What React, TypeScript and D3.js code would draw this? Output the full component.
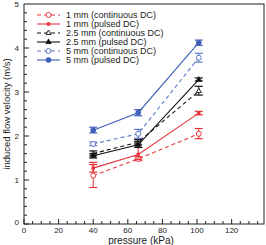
import { useEffect, useRef } from 'react';
import * as d3 from 'd3';

const pressures = [40, 66, 101];

const seriesNames = [
  '1 mm (continuous DC)',
  '1 mm (pulsed DC)',
  '2.5 mm (continuous DC)',
  '2.5 mm (pulsed DC)',
  '5 mm (continuous DC)',
  '5 mm (pulsed DC)',
];
const seriesColors = ['#e8343a', '#e8343a', '#111111', '#111111', '#5a78c8', '#3f5fb8'];
const seriesDashed = [true, false, true, false, true, false];
const seriesMarkers = ['circleOpen', 'square', 'triangleOpen', 'triangle', 'circleOpen', 'circle'];

const seriesValues = [
  [1.1, 1.48, 2.05],
  [1.27, 1.58, 2.52],
  [1.6, 1.86, 3.02],
  [1.55, 1.8, 3.28],
  [1.82, 2.05, 3.78],
  [2.13, 2.53, 4.12],
];
const seriesErrLow = [
  [0.83, 1.44, 1.94],
  [1.18, 1.47, 2.48],
  [1.55, 1.8, 2.93],
  [1.5, 1.74, 3.25],
  [1.78, 1.95, 3.68],
  [2.07, 2.46, 4.06],
];
const seriesErrHigh = [
  [1.4, 1.53, 2.17],
  [1.35, 1.74, 2.56],
  [1.66, 1.92, 3.13],
  [1.6, 1.88, 3.32],
  [1.86, 2.15, 3.88],
  [2.2, 2.6, 4.18],
];

const xTickLabels = [0, 20, 40, 60, 80, 100, 120];
const yTickLabels = [0, 1, 2, 3, 4, 5];

const W = 266;
const H = 245;
const margin = { top: 4, right: 2, bottom: 21, left: 24 };
const FONT = '"Liberation Sans", Arial, sans-serif';

export default function App() {
  const ref = useRef<SVGSVGElement>(null);

  useEffect(() => {
    if (!ref.current) return;
    const svg = d3.select(ref.current);
    svg.selectAll('*').remove();

    const x = d3.scaleLinear().domain([0, 138.7]).range([margin.left, W - margin.right]);
    const y = d3.scaleLinear().domain([0, 5]).range([H - margin.bottom, margin.top]);

    // frame
    svg.append('rect')
      .attr('x', margin.left).attr('y', margin.top)
      .attr('width', W - margin.right - margin.left)
      .attr('height', H - margin.bottom - margin.top)
      .attr('fill', 'none').attr('stroke', '#222').attr('stroke-width', 1);

    // x ticks (inward)
    const xMinor = d3.range(0, 138, 5);
    svg.append('g').selectAll('line').data(xMinor).join('line')
      .attr('x1', d => x(d)).attr('x2', d => x(d))
      .attr('y1', y(0)).attr('y2', d => y(0) - (d % 20 === 0 ? 5 : 3))
      .attr('stroke', '#222').attr('stroke-width', 1);
    svg.append('g').selectAll('text').data(xTickLabels).join('text')
      .attr('x', d => x(d)).attr('y', y(0) + 9)
      .attr('text-anchor', 'middle')
      .attr('font-family', FONT).attr('font-size', 8).attr('fill', '#222')
      .text(d => d);

    // y ticks (inward)
    const yMinor = d3.range(0, 25).map(i => i * 0.2);
    svg.append('g').selectAll('line').data(yMinor).join('line')
      .attr('x1', x(0)).attr('x2', (d, i) => x(0) + (i % 5 === 0 ? 5 : 3))
      .attr('y1', d => y(d)).attr('y2', d => y(d))
      .attr('stroke', '#222').attr('stroke-width', 1);
    svg.append('g').selectAll('text').data(yTickLabels).join('text')
      .attr('x', margin.left - 5).attr('y', d => y(d) + (d === 0 ? 1 : 3))
      .attr('text-anchor', 'end')
      .attr('font-family', FONT).attr('font-size', 8).attr('fill', '#222')
      .text(d => d);

    // axis titles
    svg.append('text')
      .attr('x', 141).attr('y', H - 1)
      .attr('text-anchor', 'middle')
      .attr('font-family', FONT).attr('font-size', 10).attr('fill', '#222')
      .text('pressure (kPa)');
    svg.append('text')
      .attr('transform', `translate(10,${(margin.top + H - margin.bottom) / 2}) rotate(-90)`)
      .attr('text-anchor', 'middle')
      .attr('font-family', FONT).attr('font-size', 9.5).attr('fill', '#222')
      .text('induced flow velocity (m/s)');

    const drawMarker = (g: any, kind: string, cx: number, cy: number, color: string) => {
      if (kind === 'circleOpen') {
        g.append('circle').attr('cx', cx).attr('cy', cy).attr('r', 2.5)
          .attr('fill', 'white').attr('stroke', color).attr('stroke-width', 1);
      } else if (kind === 'circle') {
        g.append('circle').attr('cx', cx).attr('cy', cy).attr('r', 2.8).attr('fill', color);
      } else if (kind === 'square') {
        g.append('rect').attr('x', cx - 1.7).attr('y', cy - 1.7)
          .attr('width', 3.4).attr('height', 3.4).attr('fill', color);
      } else {
        const sym = d3.symbol().type(d3.symbolTriangle).size(kind === 'triangle' ? 14 : 11);
        g.append('path').attr('d', sym()).attr('transform', `translate(${cx},${cy})`)
          .attr('fill', kind === 'triangle' ? color : 'white')
          .attr('stroke', color).attr('stroke-width', kind === 'triangle' ? 0.5 : 0.9);
      }
    };

    const line = d3.line<number>()
      .x((d, i) => x(pressures[i]))
      .y(d => y(d));

    seriesNames.forEach((name, s) => {
      const g = svg.append('g');
      const color = seriesColors[s];
      g.append('path')
        .datum(seriesValues[s])
        .attr('d', line)
        .attr('fill', 'none')
        .attr('stroke', color)
        .attr('stroke-width', 1.1)
        .attr('stroke-dasharray', seriesDashed[s] ? '4,3' : null);
      pressures.forEach((p, i) => {
        const cx = x(p);
        const lo = y(seriesErrLow[s][i]);
        const hi = y(seriesErrHigh[s][i]);
        g.append('line').attr('x1', cx).attr('x2', cx).attr('y1', lo).attr('y2', hi)
          .attr('stroke', color).attr('stroke-width', 1);
        [lo, hi].forEach(yy => {
          g.append('line').attr('x1', cx - 4).attr('x2', cx + 4).attr('y1', yy).attr('y2', yy)
            .attr('stroke', color).attr('stroke-width', 1.2);
        });
        drawMarker(g, seriesMarkers[s], cx, y(seriesValues[s][i]), color);
      });
    });

    // legend
    const legend = svg.append('g');
    seriesNames.forEach((name, s) => {
      const ly = 15 + s * 9;
      const color = seriesColors[s];
      legend.append('line')
        .attr('x1', 37).attr('x2', 60).attr('y1', ly).attr('y2', ly)
        .attr('stroke', color).attr('stroke-width', 1.1)
        .attr('stroke-dasharray', seriesDashed[s] ? '4,3' : null);
      drawMarker(legend, seriesMarkers[s], 48.5, ly, color);
      legend.append('text')
        .attr('x', 66).attr('y', ly + 3.2)
        .attr('font-family', FONT).attr('font-size', 9).attr('fill', '#222')
        .text(name);
    });
  }, []);

  return (
    <div style={{ position: 'absolute', left: 0, top: 0 }}>
      <svg ref={ref} width={W} height={H} style={{ display: 'block', background: 'white' }} />
    </div>
  );
}
